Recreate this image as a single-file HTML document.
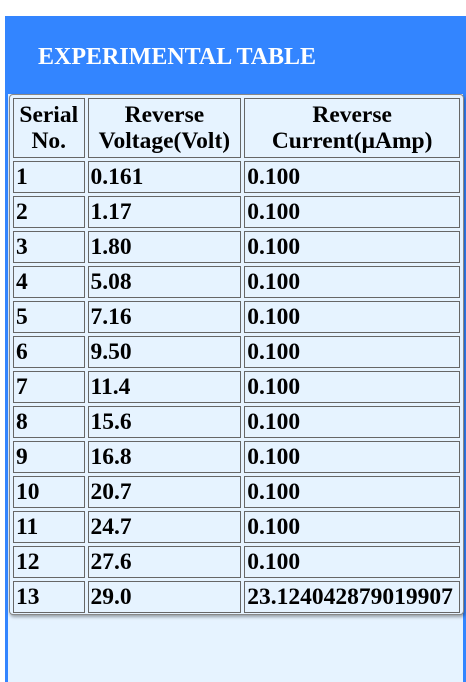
<!DOCTYPE html>
<html><head><meta charset="utf-8"><style>
html,body{margin:0;padding:0;background:#fff;width:466px;height:682px;overflow:hidden}
#panel{position:absolute;left:5px;top:16px;width:455px;height:666px;background:#e6f3ff;border-left:3px solid #3385ff;border-right:3px solid #3385ff}
#hdr{position:absolute;left:0;top:0;width:455px;height:78px;background:#3385ff}
#title{position:absolute;left:30px;top:28px;color:#fff;font:bold 24px "Liberation Serif",serif;white-space:nowrap}
#wrap{position:absolute;left:1px;top:78px;width:453px;height:519px;border:1px solid #888;border-radius:4px;box-shadow:1px 2px 3px rgba(0,0,0,.35);background:#e6f3ff}
table{border-collapse:separate;border-spacing:3px;position:absolute;left:0;top:0;font:bold 23.5px "Liberation Serif",serif;color:#000;table-layout:fixed}
td,th{border:1px solid #666;padding:0 2px;box-sizing:border-box;height:32px;text-align:left;line-height:26px;white-space:nowrap;overflow:hidden}
th{text-align:center;height:60px;font-weight:bold}
</style></head><body>
<div id="panel">
<div id="hdr"><div id="title">EXPERIMENTAL TABLE</div></div>
<div id="wrap">
<table>
<colgroup><col style="width:72px"><col style="width:155px"><col style="width:216px"></colgroup>
<tr><th>Serial<br>No.</th><th>Reverse<br>Voltage(Volt)</th><th>Reverse<br>Current(µAmp)</th></tr>
<tbody id="tb"></tbody>
</table></div></div>
<script>
const serials=[1,2,3,4,5,6,7,8,9,10,11,12,13];
const voltages=["0.161","1.17","1.80","5.08","7.16","9.50","11.4","15.6","16.8","20.7","24.7","27.6","29.0"];
const currents=["0.100","0.100","0.100","0.100","0.100","0.100","0.100","0.100","0.100","0.100","0.100","0.100","23.124042879019907"];
const tb=document.getElementById('tb');
serials.forEach((s,i)=>{
 const tr=document.createElement('tr');
 
 
 [s,voltages[i],currents[i]].forEach((v,j)=>{
  const td=document.createElement('td');
  
  
  td.textContent=v;tr.appendChild(td);
 });
 tb.appendChild(tr);
});
</script>
</body></html>
